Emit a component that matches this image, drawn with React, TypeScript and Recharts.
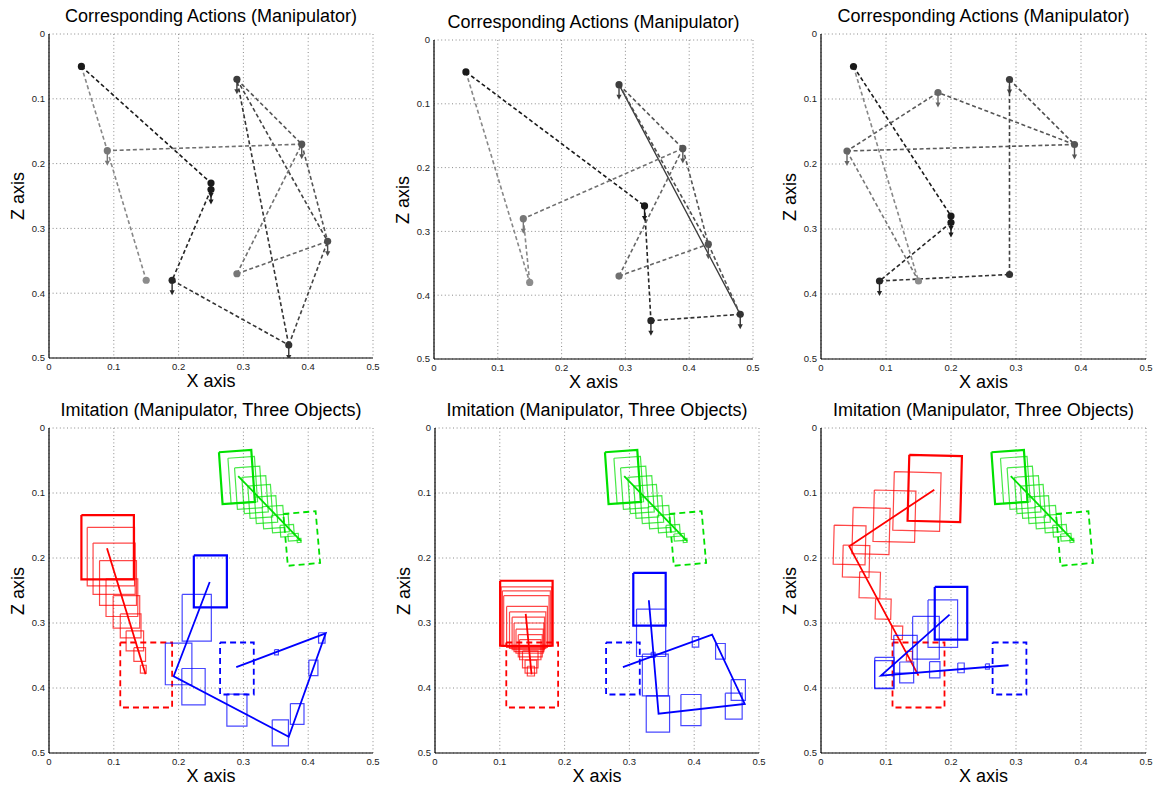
import React from 'react'
import { ComposedChart, Line, Scatter, XAxis, YAxis, CartesianGrid } from 'recharts'

type Pt = [number, number]
type Box = [number, number, number, number] // centre x, centre z, width, height
type Dot = [number, number, string, boolean] // x, z, shade, arrow
type Seg = [Pt, Pt, string, boolean?] // from, to, shade, solid

const TICKS = [0, 0.1, 0.2, 0.3, 0.4, 0.5]
const FONT = '"Liberation Sans", Arial, Helvetica, sans-serif'

// ---- corresponding actions (top row) ----
const dotsA: Dot[] = [
  [0.05, 0.05, '#1a1a1a', false],
  [0.25, 0.23, '#1a1a1a', true],
  [0.25, 0.24, '#1a1a1a', true],
  [0.19, 0.38, '#262626', true],
  [0.37, 0.48, '#333333', true],
  [0.29, 0.07, '#3d3d3d', true],
  [0.43, 0.32, '#4d4d4d', true],
  [0.39, 0.17, '#555555', true],
  [0.29, 0.37, '#777777', false],
  [0.09, 0.18, '#777777', true],
  [0.15, 0.38, '#8c8c8c', false],
]
const segsA: Seg[] = [
  [[0.05, 0.05], [0.25, 0.23], '#1a1a1a'],
  [[0.25, 0.24], [0.19, 0.38], '#262626'],
  [[0.19, 0.38], [0.37, 0.48], '#333333'],
  [[0.37, 0.48], [0.29, 0.07], '#333333'],
  [[0.37, 0.48], [0.43, 0.32], '#444444'],
  [[0.29, 0.07], [0.43, 0.32], '#444444'],
  [[0.29, 0.07], [0.39, 0.17], '#555555'],
  [[0.39, 0.17], [0.43, 0.32], '#555555'],
  [[0.43, 0.32], [0.29, 0.37], '#666666'],
  [[0.29, 0.37], [0.39, 0.17], '#707070'],
  [[0.39, 0.17], [0.09, 0.18], '#707070'],
  [[0.09, 0.18], [0.15, 0.38], '#888888'],
  [[0.05, 0.05], [0.09, 0.18], '#888888'],
]

const dotsB: Dot[] = [
  [0.05, 0.05, '#1a1a1a', false],
  [0.33, 0.26, '#1a1a1a', true],
  [0.34, 0.44, '#262626', true],
  [0.48, 0.43, '#333333', true],
  [0.29, 0.07, '#3d3d3d', true],
  [0.39, 0.17, '#555555', true],
  [0.43, 0.32, '#555555', true],
  [0.29, 0.37, '#707070', false],
  [0.14, 0.28, '#777777', true],
  [0.15, 0.38, '#8c8c8c', false],
]
const segsB: Seg[] = [
  [[0.05, 0.05], [0.33, 0.26], '#1a1a1a'],
  [[0.33, 0.26], [0.34, 0.44], '#262626'],
  [[0.34, 0.44], [0.48, 0.43], '#333333'],
  [[0.48, 0.43], [0.29, 0.07], '#3a3a3a', true],
  [[0.29, 0.07], [0.43, 0.32], '#4d4d4d'],
  [[0.43, 0.32], [0.48, 0.43], '#555555'],
  [[0.29, 0.07], [0.39, 0.17], '#555555'],
  [[0.39, 0.17], [0.43, 0.32], '#555555'],
  [[0.39, 0.17], [0.29, 0.37], '#666666'],
  [[0.29, 0.37], [0.43, 0.32], '#666666'],
  [[0.39, 0.17], [0.14, 0.28], '#707070'],
  [[0.14, 0.28], [0.15, 0.38], '#888888'],
  [[0.05, 0.05], [0.15, 0.38], '#888888'],
]

const dotsC: Dot[] = [
  [0.05, 0.05, '#1a1a1a', false],
  [0.2, 0.28, '#1a1a1a', true],
  [0.2, 0.29, '#1a1a1a', true],
  [0.09, 0.38, '#262626', true],
  [0.29, 0.37, '#333333', false],
  [0.29, 0.07, '#3d3d3d', true],
  [0.39, 0.17, '#555555', true],
  [0.18, 0.09, '#666666', true],
  [0.04, 0.18, '#666666', true],
  [0.15, 0.38, '#8c8c8c', false],
]
const segsC: Seg[] = [
  [[0.05, 0.05], [0.2, 0.28], '#1a1a1a'],
  [[0.2, 0.29], [0.09, 0.38], '#262626'],
  [[0.09, 0.38], [0.29, 0.37], '#333333'],
  [[0.29, 0.37], [0.29, 0.07], '#404040'],
  [[0.29, 0.07], [0.39, 0.17], '#4d4d4d'],
  [[0.39, 0.17], [0.18, 0.09], '#555555'],
  [[0.18, 0.09], [0.04, 0.18], '#5a5a5a'],
  [[0.04, 0.18], [0.39, 0.17], '#5a5a5a'],
  [[0.04, 0.18], [0.15, 0.38], '#777777'],
  [[0.05, 0.05], [0.15, 0.38], '#888888'],
]

// ---- imitation (bottom row) ----
// goal outlines shared by all three runs
const redGoal: Box = [0.15, 0.38, 0.08, 0.1]
const blueGoal: Box = [0.29, 0.37, 0.052, 0.08]
const greenGoal: Box = [0.39, 0.17, 0.05, 0.08]

// green object follows the same course in every run
const greenBoxes: Box[] = [
  [0.29, 0.0755, 0.05, 0.08],
  [0.299, 0.08, 0.041, 0.07],
  [0.308, 0.092, 0.039, 0.064],
  [0.318, 0.1025, 0.037, 0.056],
  [0.326, 0.113, 0.035, 0.05],
  [0.335, 0.1256, 0.033, 0.041],
  [0.346, 0.137, 0.032, 0.034],
  [0.357, 0.147, 0.026, 0.027],
  [0.3675, 0.158, 0.021, 0.018],
  [0.377, 0.168, 0.016, 0.011],
  [0.386, 0.173, 0.006, 0.006],
]
const greenPath: Pt[] = [[0.292, 0.074], [0.389, 0.174]]

const redBoxesA: Box[] = [
  [0.0905, 0.1835, 0.081, 0.099],
  [0.0955, 0.198, 0.073, 0.09],
  [0.1005, 0.2165, 0.065, 0.079],
  [0.1065, 0.2385, 0.057, 0.069],
  [0.1125, 0.261, 0.049, 0.058],
  [0.1195, 0.283, 0.041, 0.05],
  [0.126, 0.3045, 0.032, 0.037],
  [0.1325, 0.3275, 0.027, 0.031],
  [0.14, 0.3485, 0.018, 0.021],
  [0.1455, 0.371, 0.009, 0.012],
]
const redPathA: Pt[] = [[0.0895, 0.185], [0.149, 0.379]]
const blueBoxesA: Box[] = [
  [0.249, 0.236, 0.051, 0.08],
  [0.228, 0.292, 0.045, 0.072],
  [0.2, 0.363, 0.041, 0.064],
  [0.223, 0.398, 0.036, 0.056],
  [0.29, 0.434, 0.031, 0.049],
  [0.357, 0.469, 0.025, 0.04],
  [0.383, 0.44, 0.021, 0.032],
  [0.408, 0.369, 0.014, 0.024],
  [0.421, 0.323, 0.01, 0.016],
  [0.351, 0.345, 0.006, 0.008],
]
const bluePathA: Pt[] = [[0.248, 0.237], [0.1924, 0.382], [0.37, 0.475], [0.427, 0.316], [0.289, 0.368]]

const redBoxesB: Box[] = [
  [0.141, 0.285, 0.081, 0.1],
  [0.141, 0.29, 0.078, 0.091],
  [0.141, 0.293, 0.074, 0.085],
  [0.141, 0.297, 0.07, 0.078],
  [0.142, 0.306, 0.063, 0.063],
  [0.143, 0.311, 0.056, 0.056],
  [0.144, 0.316, 0.05, 0.05],
  [0.145, 0.322, 0.046, 0.044],
  [0.146, 0.328, 0.042, 0.037],
  [0.147, 0.335, 0.037, 0.034],
  [0.147, 0.341, 0.033, 0.031],
  [0.147, 0.356, 0.024, 0.026],
  [0.148, 0.367, 0.018, 0.02],
  [0.148, 0.374, 0.011, 0.015],
]
const redPathB: Pt[] = [[0.14, 0.286], [0.149, 0.379]]
const blueBoxesB: Box[] = [
  [0.331, 0.2635, 0.05, 0.081],
  [0.3335, 0.315, 0.045, 0.073],
  [0.34, 0.38, 0.04, 0.064],
  [0.344, 0.44, 0.036, 0.056],
  [0.395, 0.434, 0.031, 0.048],
  [0.461, 0.428, 0.026, 0.04],
  [0.468, 0.403, 0.022, 0.032],
  [0.4405, 0.3435, 0.015, 0.024],
  [0.402, 0.329, 0.01, 0.016],
  [0.3366, 0.349, 0.006, 0.008],
]
const bluePathB: Pt[] = [[0.33, 0.265], [0.345, 0.4395], [0.478, 0.4246], [0.4276, 0.318], [0.29, 0.368]]

const redBoxesC: Box[] = [
  [0.175, 0.093, 0.081, 0.1015],
  [0.1476, 0.113, 0.072, 0.09],
  [0.113, 0.1357, 0.064, 0.079],
  [0.077, 0.1585, 0.057, 0.071],
  [0.044, 0.18, 0.049, 0.06],
  [0.054, 0.205, 0.041, 0.049],
  [0.075, 0.2415, 0.032, 0.04],
  [0.0956, 0.2785, 0.024, 0.031],
  [0.117, 0.315, 0.017, 0.021],
  [0.136, 0.351, 0.009, 0.015],
]
const redPathC: Pt[] = [[0.1743, 0.0949], [0.0435, 0.182], [0.15, 0.381]]
const blueBoxesC: Box[] = [
  [0.2, 0.285, 0.05, 0.081],
  [0.1874, 0.301, 0.0455, 0.073],
  [0.1615, 0.3227, 0.041, 0.0655],
  [0.13, 0.348, 0.036, 0.058],
  [0.0977, 0.377, 0.03, 0.048],
  [0.097, 0.379, 0.029, 0.042],
  [0.1318, 0.376, 0.0215, 0.032],
  [0.175, 0.372, 0.016, 0.025],
  [0.2154, 0.369, 0.01, 0.015],
  [0.256, 0.367, 0.006, 0.008],
]
const bluePathC: Pt[] = [[0.1978, 0.287], [0.0923, 0.381], [0.2886, 0.365]]

// plot rectangles of the six axes on the page
const frames = {
  a: { x: 49, y: 34, w: 324, h: 324 },
  b: { x: 434, y: 40, w: 319, h: 319 },
  c: { x: 821, y: 34, w: 325, h: 325 },
  d: { x: 49, y: 428, w: 324, h: 325 },
  e: { x: 435, y: 428, w: 324, h: 325 },
  f: { x: 821, y: 428, w: 325, h: 325 },
}

const RED = 'rgb(255,0,0)'
const GREEN = 'rgb(0,225,0)'
const BLUE = 'rgb(0,0,255)'
const fade = (c: string, a: number) => c.replace('rgb(', 'rgba(').replace(')', `,${a})`)

// corners of a (slightly rotated) box, closed
const outline = ([cx, cz, w, h]: Box, deg = 0) => {
  const a = (deg * Math.PI) / 180
  const cos = Math.cos(a)
  const sin = Math.sin(a)
  return [[-1, -1], [1, -1], [1, 1], [-1, 1], [-1, -1]].map(([sx, sz]) => {
    const dx = (sx * w) / 2
    const dz = (sz * h) / 2
    return { x: cx + dx * cos - dz * sin, z: cz + dx * sin + dz * cos }
  })
}

const toRows = (pts: Pt[]) => pts.map(([x, z]) => ({ x, z }))

const line = (key: string, data: any[], stroke: string, width: number, dash?: string) => (
  <Line
    key={key}
    data={data}
    dataKey="z"
    type="linear"
    stroke={stroke}
    strokeWidth={width}
    strokeDasharray={dash}
    dot={false}
    activeDot={false}
    legendType="none"
    isAnimationActive={false}
  />
)

const Waypoint = (props: any) => {
  const { cx, cy, payload } = props
  const c = payload.c
  return (
    <g>
      {payload.arrow && (
        <>
          <line x1={cx} y1={cy} x2={cx} y2={cy + 11} stroke={c} strokeWidth={1.4} />
          <path d={`M${cx - 2.6},${cy + 10} L${cx + 2.6},${cy + 10} L${cx},${cy + 15} Z`} fill={c} />
        </>
      )}
      <circle cx={cx} cy={cy} r={3.6} fill={c} />
    </g>
  )
}

function actionMarks(id: string, dots: Dot[], segs: Seg[]) {
  const out = segs.map(([p, q, c, solid], i) =>
    line(`${id}s${i}`, toRows([p, q]), c, solid ? 1.3 : 1.6, solid ? undefined : '4 2.6'),
  )
  out.push(
    <Scatter
      key={`${id}dots`}
      data={dots.map(([x, z, c, arrow]) => ({ x, z, c, arrow }))}
      shape={Waypoint}
      legendType="none"
      isAnimationActive={false}
    />,
  )
  return out
}

function objectMarks(id: string, boxes: Box[], path: Pt[], goal: Box, color: string, tilt: number, goalTilt: number) {
  const out = boxes.map((b, i) =>
    line(`${id}b${i}`, outline(b, tilt), i === 0 ? color : fade(color, 0.72), i === 0 ? 2.2 : 1.2),
  )
  out.push(line(`${id}g`, outline(goal, goalTilt), color, 1.8, '6 4'))
  out.push(line(`${id}p`, toRows(path), color, 1.8))
  return out
}

function imitationMarks(id: string, red: Box[], redPath: Pt[], blue: Box[], bluePath: Pt[], redTilt: number) {
  return [
    ...objectMarks(`${id}r`, red, redPath, redGoal, RED, redTilt, 0),
    ...objectMarks(`${id}g`, greenBoxes, greenPath, greenGoal, GREEN, -4, -5),
    ...objectMarks(`${id}b`, blue, bluePath, blueGoal, BLUE, 0, 0),
  ]
}

const AX_W = 50
const TOP = 10
const RIGHT = 12
const AX_H = 24

function Panel({ f, title, marks }: { f: { x: number; y: number; w: number; h: number }; title: string; marks: React.ReactNode[] }) {
  const tick = { fontSize: 9.5, fill: '#222', fontFamily: FONT }
  return (
    <>
      <div
        style={{
          position: 'absolute', left: f.x - 40, width: f.w + 80, top: f.y - 28,
          textAlign: 'center', fontSize: 18, lineHeight: '20px', fontFamily: FONT, color: '#000',
        }}
      >
        {title}
      </div>
      <div style={{ position: 'absolute', left: f.x - AX_W, top: f.y - TOP }}>
        <ComposedChart
          width={f.w + AX_W + RIGHT}
          height={f.h + TOP + AX_H}
          margin={{ top: TOP, right: RIGHT, bottom: 0, left: 0 }}
        >
          <CartesianGrid stroke="#8a8a8a" strokeDasharray="1 2.6" />
          <XAxis
            type="number"
            dataKey="x"
            domain={[0, 0.5]}
            ticks={TICKS}
            interval={0}
            allowDataOverflow
            tickFormatter={(v) => String(v)}
            tick={tick}
            tickLine={false}
            tickSize={0}
            tickMargin={5}
            height={AX_H}
            axisLine={{ stroke: '#000', strokeWidth: 1.2 }}
          />
          <YAxis
            type="number"
            dataKey="z"
            reversed
            domain={[0, 0.5]}
            ticks={TICKS}
            interval={0}
            allowDataOverflow
            tickFormatter={(v) => String(v)}
            tick={tick}
            tickLine={false}
            tickSize={0}
            tickMargin={4}
            width={AX_W}
            axisLine={{ stroke: '#000', strokeWidth: 1.2 }}
          />
          {marks}
        </ComposedChart>
      </div>
      <div
        style={{
          position: 'absolute', left: f.x, width: f.w, top: f.y + f.h + 13,
          textAlign: 'center', fontSize: 18, lineHeight: '20px', fontFamily: FONT, color: '#000',
        }}
      >
        X axis
      </div>
      <div
        style={{
          position: 'absolute', left: f.x - 31 - 40, width: 80, top: f.y + f.h / 2 - 10,
          textAlign: 'center', fontSize: 18, lineHeight: '20px', fontFamily: FONT, color: '#000',
          transform: 'rotate(-90deg)',
        }}
      >
        Z axis
      </div>
    </>
  )
}

export default function App() {
  const actTitle = 'Corresponding Actions (Manipulator)'
  const imTitle = 'Imitation (Manipulator, Three Objects)'
  return (
    <div style={{ position: 'absolute', left: 0, top: 0, width: 1157, height: 787, background: '#fff', overflow: 'hidden' }}>
      <Panel f={frames.a} title={actTitle} marks={actionMarks('a', dotsA, segsA)} />
      <Panel f={frames.b} title={actTitle} marks={actionMarks('b', dotsB, segsB)} />
      <Panel f={frames.c} title={actTitle} marks={actionMarks('c', dotsC, segsC)} />
      <Panel f={frames.d} title={imTitle} marks={imitationMarks('d', redBoxesA, redPathA, blueBoxesA, bluePathA, 0)} />
      <Panel f={frames.e} title={imTitle} marks={imitationMarks('e', redBoxesB, redPathB, blueBoxesB, bluePathB, 0)} />
      <Panel f={frames.f} title={imTitle} marks={imitationMarks('f', redBoxesC, redPathC, blueBoxesC, bluePathC, 1.5)} />
    </div>
  )
}
